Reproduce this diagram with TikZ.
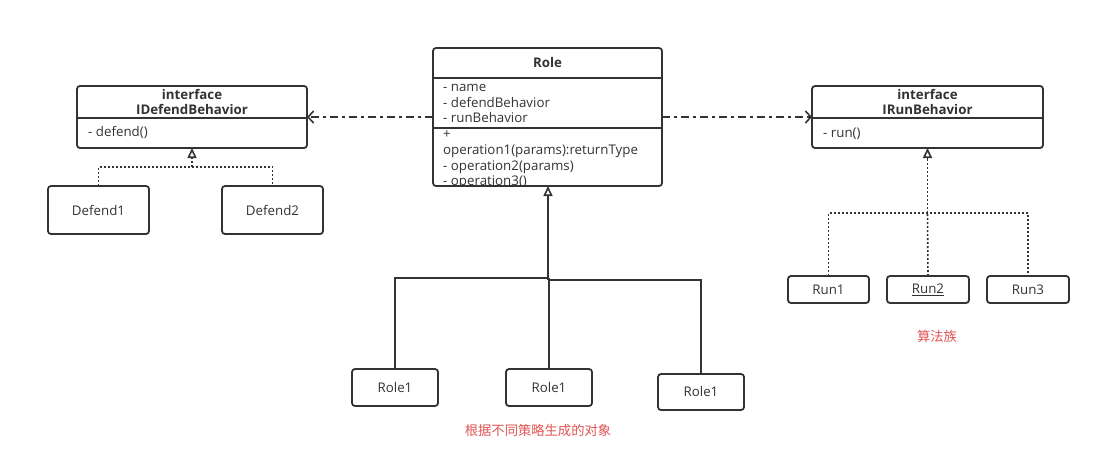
\documentclass[tikz,border=0pt]{standalone}
\usepackage{fontspec}
\setmainfont{Open Sans}
\newfontfamily\cjk{Noto Sans CJK SC}
\usetikzlibrary{arrows.meta}
\definecolor{ink}{HTML}{333333}
\definecolor{note}{RGB}{226,84,84}
\begin{document}
\begin{tikzpicture}[x=1pt,y=-1pt,
  boxline/.style={draw=ink,line width=1.8pt},
  umlbox/.style={boxline,rounded corners=3pt,inner sep=0pt,outer sep=0pt},
  txt/.style={inner sep=0pt,text=ink,font=\fontsize{13.3}{15}\selectfont},
  bold/.style={txt,font=\fontsize{13.3}{15}\selectfont\bfseries},
  dep/.style={draw=ink,line width=1.6pt,dash pattern=on 8pt off 4pt on 3pt off 4pt,
    -{Straight Barb[length=5.5pt,width=12pt,line width=1.6pt]}},
  realize/.style={draw=ink,line width=1.6pt,dash pattern=on 2pt off 2pt},
  hollow/.style={draw=ink,line width=1.6pt,solid,
    -{Triangle[open,length=10pt,width=9pt,line width=1.6pt]}},
  tree/.style={draw=ink,line width=1.8pt},
  remark/.style={inner sep=0pt,text=note,font=\cjk\fontsize{13.3}{15}\selectfont}]
\useasboundingbox[fill=white] (0,0) rectangle (1100,472);

% Role class: attributes and operations (last line runs into the border)
\begin{scope}
  \clip (434,49) rectangle (661,185);
  \foreach \t/\yy [count=\i] in {- name/91.5, - defendBehavior/107, - runBehavior/122.5,
      +/138.5, operation1(params):returnType/154.5, - operation2(params)/170,
      - operation3()/185.5}
    \node[txt,anchor=base west,name=rl\i] at (443,\yy) {\t};
\end{scope}
\node[umlbox,minimum width=229pt,minimum height=138pt] (role) at (547.5,117) {};
\node[bold] (roletitle) at (547.5,63) {Role};
\draw[boxline] (role.west |- 0,78) -- (role.east |- 0,78);
\draw[boxline] (role.west |- 0,128) -- (role.east |- 0,128);

% IDefendBehavior interface
\node[umlbox,minimum width=230pt,minimum height=62pt] (idef) at (192,117) {};
\node[bold,anchor=base] (idefa) at (192,99) {interface};
\node[bold,anchor=base] (idefb) at (192,114) {IDefendBehavior};
\draw[boxline] (idef.west |- 0,118) -- (idef.east |- 0,118);
\node[txt,anchor=base west] (idefop) at (88,136.5) {- defend()};

% IRunBehavior interface
\node[umlbox,minimum width=231pt,minimum height=62pt] (irun) at (927.5,117) {};
\node[bold,anchor=base] (iruna) at (927.5,99) {interface};
\node[bold,anchor=base] (irunb) at (927.5,114) {IRunBehavior};
\draw[boxline] (irun.west |- 0,118) -- (irun.east |- 0,118);
\node[txt,anchor=base west] (irunop) at (823,137.5) {- run()};

% defend implementations
\node[umlbox,txt,minimum width=101pt,minimum height=48pt] (d1) at (98.5,210) {Defend1};
\node[umlbox,txt,minimum width=101pt,minimum height=48pt] (d2) at (272.5,210) {Defend2};

% run implementations
\node[umlbox,txt,minimum width=81pt,minimum height=27pt] (r1) at (828.5,289.5) {Run1};
\node[umlbox,txt,minimum width=82pt,minimum height=27pt] (r2) at (928,289.5) {\underline{Run2}};
\node[umlbox,txt,minimum width=82pt,minimum height=27pt] (r3) at (1028,289.5) {Run3};

% concrete roles
\node[umlbox,txt,minimum width=86pt,minimum height=37pt] (ra) at (395,387.5) {Role1};
\node[umlbox,txt,minimum width=86pt,minimum height=37pt] (rb) at (549,387.5) {Role1};
\node[umlbox,txt,minimum width=86pt,minimum height=36pt] (rc) at (701,392) {Role1};

% dependencies of Role on the two interfaces
\draw[dep] (role.west) -- (idef.east);
\draw[dep] (role.east) -- (irun.west);

% realizations of IDefendBehavior (dotted shaft, solid hollow head)
\coordinate (dj) at (192,167);
\draw[realize] (d1.north) |- (dj) -| (d2.north);
\draw[realize] (dj) -- ([yshift=-10pt]idef.south);
\draw[hollow] ([yshift=-11pt]idef.south) -- (idef.south);

% realizations of IRunBehavior
\coordinate (rj) at (927.5,213);
\draw[realize] (r1.north) |- (rj) -| (r3.north);
\draw[realize] (r2.north) -- (rj);
\draw[realize] (rj) -- ([yshift=-10pt]irun.south);
\draw[hollow] ([yshift=-11pt]irun.south) -- (irun.south);

% Role hierarchy
\coordinate (tj) at (548,278);
\coordinate (tk) at (548,280);
\draw[tree] (ra.north) |- (tj);
\draw[tree] (rb.north) -- (rb.north |- tj);
\draw[tree] (rc.north) |- (tk);
\draw[tree,hollow] (tk) -- (role.south -| tk);

% annotations
\node[remark] (famnote) at (937,336) {算法族};
\node[remark] (objnote) at (538,430) {根据不同策略生成的对象};
\end{tikzpicture}
\end{document}
